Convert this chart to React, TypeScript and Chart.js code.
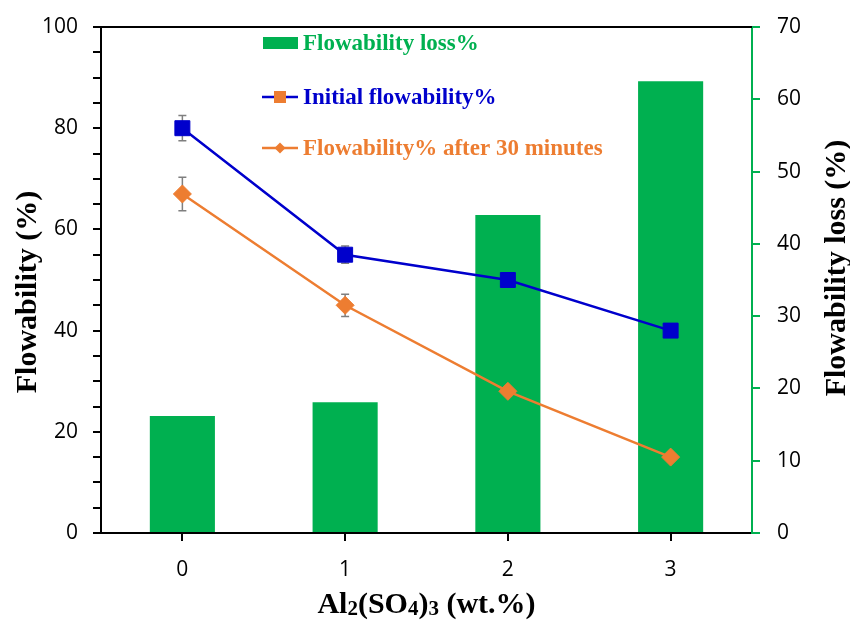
import { useEffect, useRef } from 'react';
import { Chart, registerables } from 'chart.js';

Chart.register(...registerables);

const categories = ['0', '1', '2', '3'];
const flowLoss = [16.2, 18.1, 44.0, 62.5];
const initialFlow = [80, 55, 50, 40];
const initialErr = [2.5, 1.7, 1.0, 0.8];
const after30 = [67, 45, 28, 15];
const after30Err = [3.3, 2.2, 1.0, 1.0];
const leftLabelStep = 20;
const rightStep = 10;

const GREEN = '#00B050';
const BLUE = '#0000CC';
const ORANGE = '#ED7D31';
const SERIF = '"Liberation Serif", "Times New Roman", serif';
const SANS = '"Open Sans", sans-serif';

const decorPlugin = {
  id: 'decor',
  beforeDatasetsDraw(chart: any) {
    const { ctx } = chart;
    const xs = chart.scales.x;
    const ys = chart.scales.y;
    ctx.save();
    ctx.strokeStyle = '#7F7F7F';
    ctx.lineWidth = 1.5;
    const draw = (vals: number[], errs: number[]) => {
      vals.forEach((v, i) => {
        const px = xs.getPixelForValue(i);
        const t = ys.getPixelForValue(v + errs[i]);
        const b = ys.getPixelForValue(v - errs[i]);
        ctx.beginPath();
        ctx.moveTo(px, t);
        ctx.lineTo(px, b);
        ctx.moveTo(px - 4, t);
        ctx.lineTo(px + 4, t);
        ctx.moveTo(px - 4, b);
        ctx.lineTo(px + 4, b);
        ctx.stroke();
      });
    };
    draw(initialFlow, initialErr);
    draw(after30, after30Err);
    ctx.restore();
  },
  afterDraw(chart: any) {
    const { ctx, chartArea } = chart;
    const { left, right, top, bottom } = chartArea;
    ctx.save();
    // top border
    ctx.strokeStyle = '#000';
    ctx.lineWidth = 2;
    ctx.beginPath();
    ctx.moveTo(left - 8, top);
    ctx.lineTo(right, top);
    ctx.stroke();

    // legend
    const lx = left + 162;
    ctx.font = `bold 23px ${SERIF}`;
    ctx.textBaseline = 'middle';
    ctx.textAlign = 'left';
    // item 1
    ctx.fillStyle = GREEN;
    ctx.fillRect(lx, top + 10, 35, 12);
    ctx.fillText('Flowability loss%', lx + 40, top + 17);
    // item 2
    ctx.strokeStyle = BLUE;
    ctx.lineWidth = 2.5;
    ctx.beginPath();
    ctx.moveTo(lx - 1, top + 70);
    ctx.lineTo(lx + 35, top + 70);
    ctx.stroke();
    ctx.fillStyle = ORANGE;
    ctx.fillRect(lx + 11, top + 64, 12, 12);
    ctx.fillStyle = BLUE;
    ctx.fillText('Initial flowability%', lx + 40, top + 71);
    // item 3
    ctx.strokeStyle = ORANGE;
    ctx.beginPath();
    ctx.moveTo(lx - 1, top + 121);
    ctx.lineTo(lx + 35, top + 121);
    ctx.stroke();
    ctx.fillStyle = ORANGE;
    ctx.beginPath();
    ctx.moveTo(lx + 17, top + 115.5);
    ctx.lineTo(lx + 22.5, top + 121);
    ctx.lineTo(lx + 17, top + 126.5);
    ctx.lineTo(lx + 11.5, top + 121);
    ctx.closePath();
    ctx.fill();
    ctx.fillText('Flowability% after 30 minutes', lx + 40, top + 122.5);

    // axis titles
    ctx.fillStyle = '#000';
    ctx.font = `bold 30px ${SERIF}`;
    ctx.textAlign = 'center';
    ctx.save();
    ctx.translate(28, 292);
    ctx.rotate(-Math.PI / 2);
    ctx.fillText('Flowability (%)', 0, 0);
    ctx.restore();
    ctx.save();
    ctx.translate(837, 268);
    ctx.rotate(-Math.PI / 2);
    ctx.fillText('Flowability loss (%)', 0, 0);
    ctx.restore();

    // x title with subscripts
    const pieces: [string, boolean][] = [
      ['Al', false], ['2', true], ['(SO', false], ['4', true], [')', false], ['3', true], [' (wt.%)', false],
    ];
    const big = `bold 30px ${SERIF}`;
    const small = `bold 21px ${SERIF}`;
    let total = 0;
    pieces.forEach(([t, s]) => {
      ctx.font = s ? small : big;
      total += ctx.measureText(t).width;
    });
    let cx = (left + right) / 2 - total / 2;
    ctx.textAlign = 'left';
    ctx.textBaseline = 'alphabetic';
    const base = bottom + 80;
    pieces.forEach(([t, s]) => {
      ctx.font = s ? small : big;
      ctx.fillText(t, cx, s ? base + 2 : base);
      cx += ctx.measureText(t).width;
    });
    ctx.restore();
  },
};

const fitY = (w: number) => (s: any) => {
  s.width = w;
  s.paddingTop = 0;
  s.paddingBottom = 0;
};

export default function App() {
  const ref = useRef<HTMLCanvasElement>(null);
  useEffect(() => {
    if (!ref.current) return;
    const chart = new Chart(ref.current, {
      type: 'bar',
      data: {
        labels: categories,
        datasets: [
          {
            type: 'line',
            label: 'Initial flowability%',
            data: initialFlow,
            yAxisID: 'y',
            borderColor: BLUE,
            backgroundColor: BLUE,
            borderWidth: 2.5,
            pointStyle: 'rect',
            pointRadius: 10.6,
            pointBorderWidth: 1,
            pointBorderColor: BLUE,
            tension: 0,
            order: 1,
          } as any,
          {
            type: 'line',
            label: 'Flowability% after 30 minutes',
            data: after30,
            yAxisID: 'y',
            borderColor: ORANGE,
            backgroundColor: ORANGE,
            borderWidth: 2.5,
            pointStyle: 'rectRot',
            pointRadius: 9,
            pointBorderWidth: 1,
            pointBorderColor: ORANGE,
            tension: 0,
            order: 2,
          } as any,
          {
            type: 'bar',
            label: 'Flowability loss%',
            data: flowLoss,
            yAxisID: 'y1',
            backgroundColor: GREEN,
            barPercentage: 0.4,
            categoryPercentage: 1,
            order: 3,
          } as any,
        ],
      },
      options: {
        responsive: false,
        animation: false,
        layout: { padding: { top: 27, left: 0, right: 0, bottom: 0 } },
        plugins: { legend: { display: false }, tooltip: { enabled: false } },
        scales: {
          x: {
            type: 'category',
            offset: true,
            afterFit: (s: any) => { s.height = 87; s.paddingLeft = 0; s.paddingRight = 0; },
            grid: { offset: false, drawOnChartArea: false, drawTicks: true, tickLength: 8, color: '#000', lineWidth: 2, tickColor: '#000', tickWidth: 2 },
            border: { color: '#000', width: 2 },
            ticks: { color: '#000', font: { family: SANS, size: 21 }, padding: 16 },
          },
          y: {
            position: 'left',
            min: 0,
            max: 100,
            afterFit: fitY(101),
            grid: { drawOnChartArea: false, tickLength: 8, color: '#000', lineWidth: 2, tickColor: '#000', tickWidth: 2 },
            border: { color: '#000', width: 2 },
            ticks: {
              stepSize: 5,
              autoSkip: false,
              color: '#000',
              font: { family: SANS, size: 21 },
              padding: 15,
              callback: (v: any) => (Number(v) % leftLabelStep === 0 ? String(v) : ''),
            },
          },
          y1: {
            position: 'right',
            min: 0,
            max: 70,
            afterFit: fitY(98),
            grid: { drawOnChartArea: false, tickLength: 8, color: GREEN, lineWidth: 2, tickColor: GREEN, tickWidth: 2 },
            border: { color: GREEN, width: 2 },
            ticks: { stepSize: rightStep, autoSkip: false, color: '#000', font: { family: SANS, size: 21 }, padding: 17 },
          },
        },
      } as any,
      plugins: [decorPlugin],
    });
    return () => chart.destroy();
  }, []);
  return (
    <div style={{ position: 'absolute', left: 0, top: 0, width: 850, height: 620 }}>
      <canvas ref={ref} width={850} height={620} />
    </div>
  );
}
